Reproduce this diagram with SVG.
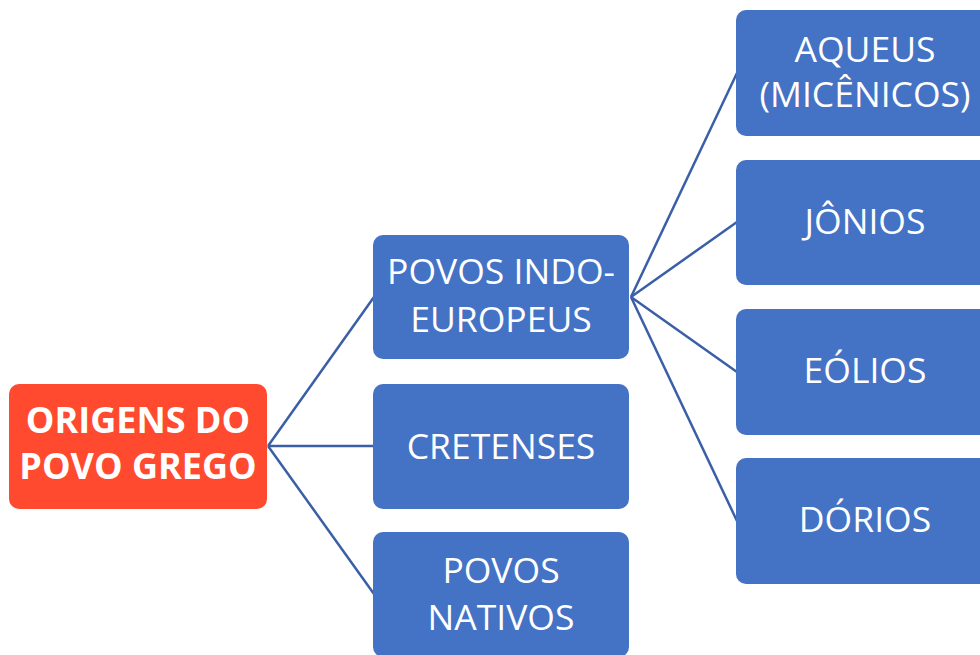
<svg xmlns="http://www.w3.org/2000/svg" width="980" height="655" viewBox="0 0 980 655">
<style>
.root{fill:#FF4A2F}
.box{fill:#4472C4}
.t{font-family:"Open Sans","Liberation Sans",sans-serif;font-size:35.5px;fill:#FFFFFF;text-anchor:middle}
.tb{font-family:"Open Sans","Liberation Sans",sans-serif;font-size:36px;font-weight:bold;fill:#FFFFFF;text-anchor:middle}
.c{stroke:#3A5FA6;stroke-width:2.5;fill:none}
</style>
<rect width="980" height="655" fill="#FFFFFF"/>
<g id="connectors">
<line class="c" x1="268" y1="446" x2="374" y2="297"/>
<line class="c" x1="268" y1="446" x2="374" y2="446"/>
<line class="c" x1="268" y1="446" x2="374" y2="594"/>
<line class="c" x1="631" y1="297" x2="737" y2="73"/>
<line class="c" x1="631" y1="297" x2="737" y2="222"/>
<line class="c" x1="631" y1="297" x2="737" y2="372"/>
<line class="c" x1="631" y1="297" x2="737" y2="521"/>
</g>
<g id="root">
<rect class="root" x="9" y="384" width="258" height="125" rx="10"/>
<text class="tb" x="138" y="433">ORIGENS DO</text>
<text class="tb" x="138" y="479">POVO GREGO</text>
</g>
<g id="indo">
<rect class="box" x="373" y="235" width="256" height="124" rx="10"/>
<text class="t" x="501" y="284">POVOS INDO-</text>
<text class="t" x="501" y="332">EUROPEUS</text>
</g>
<g id="cretenses">
<rect class="box" x="373" y="384" width="256" height="125" rx="10"/>
<text class="t" x="501" y="459">CRETENSES</text>
</g>
<g id="nativos">
<rect class="box" x="373" y="532" width="256" height="125" rx="10"/>
<text class="t" x="501" y="583">POVOS</text>
<text class="t" x="501" y="630">NATIVOS</text>
</g>
<g id="aqueus">
<rect class="box" x="736" y="10" width="258" height="126" rx="10"/>
<text class="t" x="865" y="62">AQUEUS</text>
<text class="t" x="865" y="107">(MICÊNICOS)</text>
</g>
<g id="jonios">
<rect class="box" x="736" y="160" width="258" height="125" rx="10"/>
<text class="t" x="865" y="234">JÔNIOS</text>
</g>
<g id="eolios">
<rect class="box" x="736" y="309" width="258" height="126" rx="10"/>
<text class="t" x="865" y="383">EÓLIOS</text>
</g>
<g id="dorios">
<rect class="box" x="736" y="458" width="258" height="126" rx="10"/>
<text class="t" x="865" y="532">DÓRIOS</text>
</g>
</svg>
